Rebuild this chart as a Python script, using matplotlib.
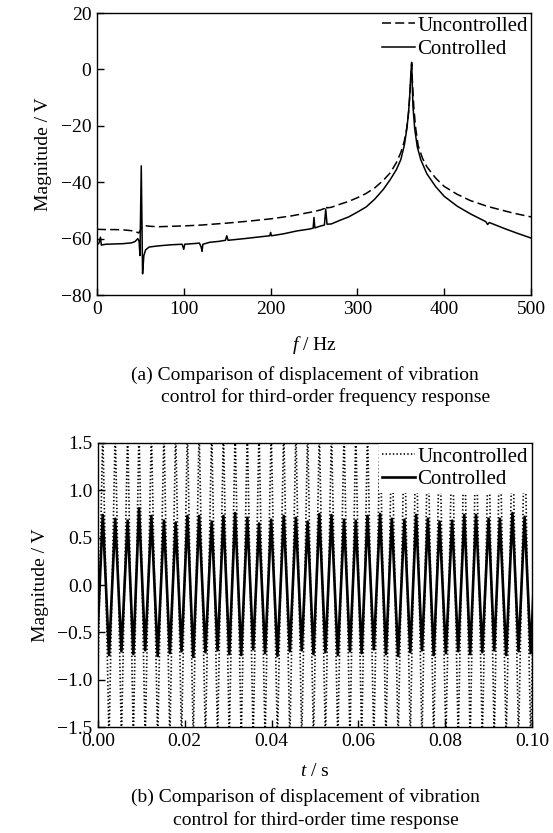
import matplotlib
matplotlib.use("Agg")
import matplotlib.pyplot as plt
import numpy as np

plt.rcParams['font.family'] = ['Liberation Serif', 'DejaVu Serif']
plt.rcParams['mathtext.fontset'] = 'custom'
plt.rcParams['mathtext.rm'] = 'Liberation Serif'
plt.rcParams['mathtext.it'] = 'Liberation Serif:italic'
plt.rcParams['lines.scale_dashes'] = False
plt.rcParams['axes.unicode_minus'] = True

# ---------------- (a) frequency response ----------------
f_unc = [0, 10, 20, 30, 40, 45, 48, 52, 55, 60, 70, 80, 100, 120, 150, 175, 200, 225,
         240, 250, 258, 262, 263.5, 265, 270, 280, 290, 300, 310, 320, 330, 338, 345,
         350, 354, 357, 359, 360.5, 361.5, 362.5, 363.5, 365, 367, 370, 375, 380, 390,
         400, 415, 430, 450, 465, 480, 500]
mag_unc = [-56.7, -56.8, -56.8, -56.9, -57.2, -57.6, -58.0, -56.0, -55.4, -55.6, -55.8,
           -55.7, -55.5, -55.2, -54.5, -53.8, -53.0, -51.9, -51.0, -50.4, -49.8, -49.3,
           -48.3, -49.1, -48.9, -47.8, -46.8, -45.5, -44.0, -42.0, -39.3, -36.6, -33.0,
           -29.5, -25.5, -20.5, -15.0, -9.0, -3.0, 2.0, -5.0, -13.5, -20.5, -27.0, -31.5,
           -34.5, -38.5, -41.5, -44.3, -46.5, -48.6, -49.8, -51.0, -52.3]

f_ctl = [0, 2, 4, 5, 10, 20, 30, 40, 44, 47, 48.5, 49.5, 51, 52.5, 54, 56, 60, 70, 85,
         98, 100, 101, 110, 118, 120, 121, 122, 130, 140, 148, 149.5, 151, 170, 190,
         199, 200, 201, 215, 230, 245, 249, 250, 251, 258, 262, 263.5, 265, 270, 280,
         290, 300, 310, 320, 330, 338, 345, 350, 354, 357, 359, 360.5, 361.5, 362.5,
         363.2, 364, 366, 369, 373, 380, 390, 400, 415, 430, 448, 450, 452, 470, 485, 500]
mag_ctl = [-62.0, -61.8, -59.5, -62.3, -62.0, -61.9, -61.8, -61.5, -61.0, -60.0, -61.0,
           -66.0, -34.2, -72.5, -66.0, -64.0, -63.0, -62.6, -62.2, -62.0, -63.8, -62.0,
           -61.8, -61.6, -63.0, -64.5, -62.0, -61.3, -61.0, -60.6, -59.0, -60.6, -60.0,
           -59.3, -59.0, -57.8, -59.0, -58.3, -57.3, -56.6, -56.3, -52.5, -56.2, -55.5,
           -55.2, -49.5, -54.9, -54.8, -53.5, -52.3, -50.6, -48.8, -46.0, -42.5, -39.0,
           -35.5, -32.0, -27.0, -21.0, -15.0, -8.0, -2.0, 2.5, -5.0, -13.0, -21.0, -27.5,
           -32.0, -37.0, -41.5, -45.0, -48.5, -51.2, -54.0, -55.0, -54.3, -56.5, -58.2,
           -59.8]

# ---------------- (b) time response ----------------
# times of the controlled-signal peaks (ms)
peak_t_ms = [-1.7, 1.1, 3.97, 6.83, 9.45, 12.3, 15.2, 17.9, 20.6, 23.3, 26.2, 28.9, 31.6,
             34.4, 37.1, 39.9, 42.8, 45.6, 48.3, 51.0, 53.8, 56.7, 59.4, 62.1, 65.0,
             67.7, 70.6, 73.3, 76.0, 78.7, 81.6, 84.4, 87.1, 90.0, 92.6, 95.5, 98.3, 101.1]
ctl_peaks = [0.72, 0.74, 0.70, 0.68, 0.81, 0.73, 0.68, 0.66, 0.73, 0.73, 0.67, 0.73, 0.76,
             0.71, 0.65, 0.69, 0.73, 0.71, 0.67, 0.75, 0.74, 0.69, 0.68, 0.73, 0.75, 0.70,
             0.69, 0.74, 0.70, 0.67, 0.68, 0.74, 0.74, 0.70, 0.70, 0.76, 0.72, 0.72]
ctl_troughs = [-0.72, -0.74, -0.70, -0.73, -0.69, -0.75, -0.72, -0.70, -0.76, -0.71, -0.69,
               -0.73, -0.74, -0.68, -0.72, -0.75, -0.70, -0.69, -0.73, -0.71, -0.74, -0.70,
               -0.72, -0.68, -0.73, -0.75, -0.71, -0.69, -0.74, -0.72, -0.70, -0.73, -0.71,
               -0.69, -0.74, -0.70, -0.72, -0.72]
unc_peaks = [1.65] * 38
unc_troughs = [-1.65] * 38


def zigzag(pt, peaks, troughs):
    t, v = [], []
    for i in range(len(pt)):
        t.append(pt[i] / 1000.0)
        v.append(peaks[i])
        if i + 1 < len(pt):
            t.append((pt[i] + pt[i + 1]) / 2000.0)
            v.append(troughs[i])
    return t, v


t_ctl, v_ctl = zigzag(peak_t_ms, ctl_peaks, ctl_troughs)
t_unc, v_unc = zigzag(peak_t_ms, unc_peaks, unc_troughs)

W, H = 553, 833
fig = plt.figure(figsize=(W / 100, H / 100), dpi=100)


def fx(px):
    return px / W


def fy(py):
    return 1 - py / H


FS = 14
LFS = 15

ax1 = fig.add_axes([fx(97), fy(295), fx(531) - fx(97), fy(13) - fy(295)])
ax1.plot(f_unc, mag_unc, color='black', lw=1.1, linestyle=(0, (6.5, 3)), label='Uncontrolled')
ax1.plot(f_ctl, mag_ctl, color='black', lw=1.1, label='Controlled')
ax1.set_xlim(0, 500)
ax1.set_ylim(-80, 20)
ax1.set_xticks([0, 100, 200, 300, 400, 500])
ax1.set_yticks([20, 0, -20, -40, -60, -80])
ax1.tick_params(direction='in', length=5, width=1, labelsize=FS, pad=4)
ax1.set_ylabel('Magnitude / V', fontsize=FS, labelpad=6)
ax1.legend(loc='upper right', frameon=False, fontsize=LFS, handlelength=1.6,
           handletextpad=0.1, borderaxespad=0.0, borderpad=0.15, labelspacing=0.2)
for s in ax1.spines.values():
    s.set_linewidth(1.0)

fig.text(fx(314), fy(345), r'$f$ / Hz', fontsize=FS, ha='center', va='center')
fig.text(fx(305), fy(375), '(a) Comparison of displacement of vibration', fontsize=FS,
         ha='center', va='center')
fig.text(fx(326), fy(397), 'control for third-order frequency response', fontsize=FS,
         ha='center', va='center')

ax2 = fig.add_axes([fx(98), fy(727), fx(532) - fx(98), fy(443) - fy(727)])
ax2.plot(t_ctl, v_ctl, color='black', lw=1.9, label='Controlled', zorder=2)
ax2.plot(t_unc, v_unc, color='black', lw=1.2, linestyle=(0, (1.0, 1.6)),
         label='Uncontrolled', zorder=3)
ax2.set_xlim(0, 0.1)
ax2.set_ylim(-1.5, 1.5)
ax2.set_xticks([0.0, 0.02, 0.04, 0.06, 0.08, 0.10])
ax2.set_xticklabels(['0.00', '0.02', '0.04', '0.06', '0.08', '0.10'])
ax2.set_yticks([1.5, 1.0, 0.5, 0.0, -0.5, -1.0, -1.5])
ax2.set_yticklabels(['1.5', '1.0', '0.5', '0.0', '\u22120.5', '\u22121.0', '\u22121.5'])
ax2.tick_params(direction='in', length=5, width=1, labelsize=FS, pad=4)
ax2.set_ylabel('Magnitude / V', fontsize=FS, labelpad=6)
h, l = ax2.get_legend_handles_labels()
leg = ax2.legend([h[1], h[0]], [l[1], l[0]], loc='upper right', frameon=True,
                 fontsize=LFS, handlelength=1.6, handletextpad=0.1, borderaxespad=0.05,
                 borderpad=0.15, labelspacing=0.15, fancybox=False)
leg.get_frame().set_edgecolor('none')
leg.get_frame().set_facecolor('white')
leg.get_frame().set_alpha(1.0)
leg.set_zorder(5)
for s in ax2.spines.values():
    s.set_linewidth(1.0)

fig.text(fx(315), fy(771), r'$t$ / s', fontsize=FS, ha='center', va='center')
fig.text(fx(305), fy(797), '(b) Comparison of displacement of vibration', fontsize=FS,
         ha='center', va='center')
fig.text(fx(316), fy(820), 'control for third-order time response', fontsize=FS,
         ha='center', va='center')

fig.savefig('out.png', dpi=100, facecolor='white')
